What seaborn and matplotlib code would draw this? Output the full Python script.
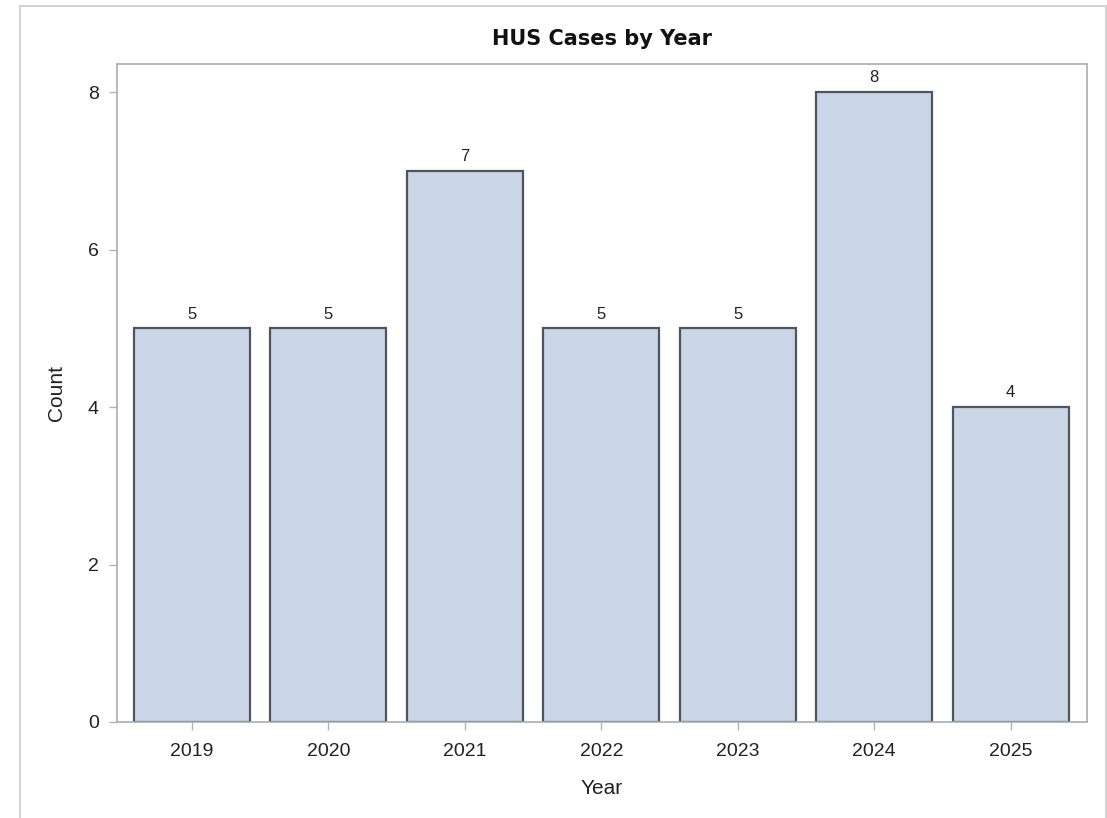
import matplotlib
matplotlib.use("Agg")
import matplotlib.pyplot as plt
import seaborn as sns
import pandas as pd
from matplotlib.lines import Line2D

years = ["2019", "2020", "2021", "2022", "2023", "2024", "2025"]
counts = [5, 5, 7, 5, 5, 8, 4]
y_ticks = [0, 2, 4, 6, 8]

df = pd.DataFrame({"Year": years, "Count": counts})

sns.set_theme(style="white")
plt.rcParams["font.family"] = ["Liberation Sans", "DejaVu Sans"]

fig = plt.figure(figsize=(11.07, 8.18), dpi=100)
ax = fig.add_axes([117 / 1107, 1 - 722 / 818, (1087 - 117) / 1107, (722 - 64) / 818])

sns.barplot(data=df, x="Year", y="Count", ax=ax, color="#CAD5E5", saturation=1,
            width=0.85, edgecolor="#4F555C", linewidth=1.6)

for p, c in zip(ax.patches, counts):
    ax.annotate(str(c), (p.get_x() + p.get_width() / 2, p.get_height()),
                xytext=(0, 5), textcoords="offset points", ha="center", va="bottom",
                fontsize=12, color="#222222")

ax.set_xlim(-0.55, 6.56)
ax.set_ylim(0, 8.36)
ax.set_yticks(y_ticks)
ax.set_title("HUS Cases by Year", fontsize=15, fontweight="bold", color="#111111",
             pad=14, family=["DejaVu Sans"])
ax.set_xlabel("Year", fontsize=15, color="#222222", labelpad=14)
ax.set_ylabel("Count", fontsize=15, color="#222222", labelpad=16)
ax.tick_params(axis="x", which="major", pad=9)
ax.tick_params(axis="y", which="major", pad=7)
ax.tick_params(axis="both", which="major", labelsize=14, labelcolor="#222222",
               length=6, width=1, color="#B0B4B8", direction="out",
               left=True, bottom=True)
for s in ax.spines.values():
    s.set_color("#A9ADB2")
    s.set_linewidth(1.2)

# light outer frame around the graph area (no bottom edge)
frame_c = "#D3D3D3"
fig.add_artist(Line2D([20 / 1107, 20 / 1107], [0, 1 - 6 / 818], color=frame_c, lw=1.5,
                      transform=fig.transFigure))
fig.add_artist(Line2D([20 / 1107, 1106 / 1107], [1 - 6 / 818, 1 - 6 / 818], color=frame_c,
                      lw=1.5, transform=fig.transFigure))
fig.add_artist(Line2D([1106 / 1107, 1106 / 1107], [0, 1 - 6 / 818], color=frame_c, lw=1.5,
                      transform=fig.transFigure))

fig.savefig("out.png", dpi=100)
